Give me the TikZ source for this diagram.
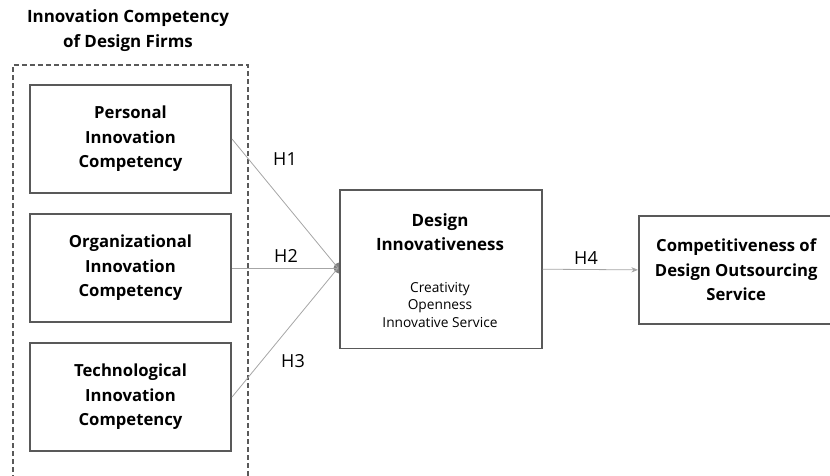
\documentclass[tikz,border=0pt]{standalone}
\usepackage{fontspec}
\setmainfont{Open Sans}
\usetikzlibrary{arrows.meta}
\definecolor{boxgray}{HTML}{595959}
\definecolor{linegray}{HTML}{A6A6A6}
\tikzset{
  conbox/.style={draw=boxgray, line width=1.3pt, fill=white, align=center, inner sep=0pt,
    font=\bfseries\fontsize{12.5}{18.4}\selectfont, text=black},
  conline/.style={draw=linegray, line width=0.6pt},
  hlabel/.style={font=\fontsize{13.5}{15}\selectfont, inner sep=0pt},
}
\begin{document}
\begin{tikzpicture}[x=0.75pt,y=-0.75pt]
\useasboundingbox (0,0) rectangle (830,475);
% title
\node[align=center, font=\bfseries\fontsize{12.7}{18.75}\selectfont] (title) at (128,31) {Innovation Competency\\of Design Firms};
% dashed group
\draw[boxgray, dashed, line width=0.9pt, dash pattern=on 4pt off 2pt] (13,480) -- (13,65) -- (248,65) -- (248,480);
% dot
\fill[gray] (339,268) circle (5.5);
% boxes
\node[conbox, minimum width=151pt, minimum height=81pt] (p) at (130.5,139) {Personal\\Innovation\\Competency};
\node[conbox, minimum width=151pt, minimum height=81pt] (o) at (130.5,268) {Organizational\\Innovation\\Competency};
\node[conbox, minimum width=151pt, minimum height=81pt] (t) at (130.5,397) {Technological\\Innovation\\Competency};
\node[conbox, minimum width=151.5pt, minimum height=119pt, anchor=north west] (d) at (339,189) {};
\node[font=\bfseries\fontsize{12.7}{18.4}\selectfont, align=center] (dt) at (440,232) {Design\\Innovativeness};
\node[font=\fontsize{10.3}{12.9}\selectfont, align=center] (ds) at (440,305) {Creativity\\Openness\\Innovative Service};
\node[conbox, minimum width=146pt, minimum height=81pt, anchor=north west] (c) at (638,215) {Competitiveness of\\Design Outsourcing\\Service};
% connectors
\coordinate (m) at (338,268);
\draw[conline] (p.east) -- (m);
\draw[conline] (o.east) -- (m);
\draw[conline] (t.east) -- (m);
\draw[conline, -{Stealth[length=5pt,width=4pt]}] (d.east) -- (c.west);
% labels
\node[hlabel] (h1) at (285,159) {H1};
\node[hlabel] (h2) at (286,256) {H2};
\node[hlabel] (h3) at (293,361) {H3};
\node[hlabel] (h4) at (586,258) {H4};
\end{tikzpicture}
\end{document}
